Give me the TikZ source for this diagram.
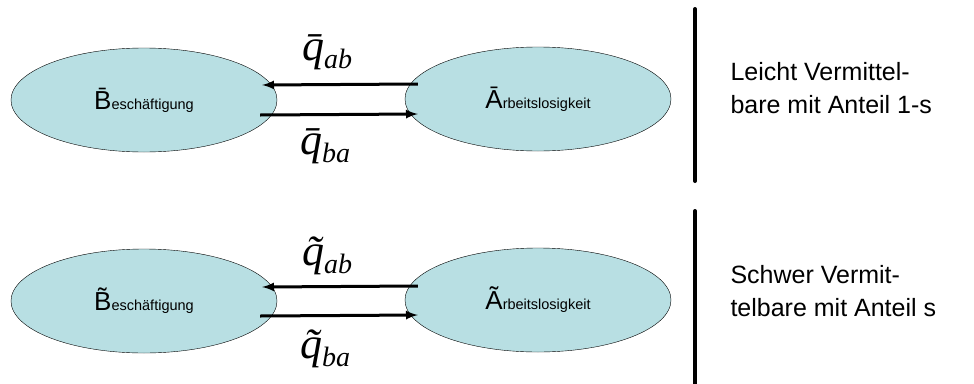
\documentclass[tikz,border=0pt]{standalone}
\usepackage{fontspec}
\setmainfont{Liberation Sans}
\newfontfamily\tnr{Liberation Serif}
\usetikzlibrary{shapes.geometric}
\definecolor{hellblau}{RGB}{184,223,227}
\newcommand{\gross}[1]{{\fontsize{26}{28}\selectfont #1}}
\newcommand{\qrate}[2]{#1q\raisebox{-8pt}{\fontsize{28}{28}\selectfont #2}}
\begin{document}
\begin{tikzpicture}[x=1pt, y=-1pt,
    every node/.style={font=\fontsize{14.5}{16}\selectfont},
    zustand/.style={ellipse, draw, fill=hellblau, minimum width=266pt,
        minimum height=104pt, inner sep=0pt},
    pfeil/.style={-latex, line width=3pt},
    rate/.style={font=\tnr\itshape\fontsize{44}{44}\selectfont},
    trenn/.style={line width=4pt, line cap=round},
    gruppe/.style={align=left, anchor=west, font=\fontsize{25}{33}\selectfont}]

    \useasboundingbox (0,0) rectangle (974,383);

    \node[zustand] (b1) at (144,100) {\gross{\=B}eschäftigung};
    \node[zustand] (a1) at (538,99) {\gross{\=A}rbeitslosigkeit};
    \node[zustand] (b2) at (144,301) {\gross{\~B}eschäftigung};
    \node[zustand] (a2) at (538,300) {\gross{\~A}rbeitslosigkeit};

    \draw[pfeil] ([shift={(13pt,15pt)}]a1.west) -- ([shift={(-15pt,15pt)}]b1.east);
    \draw[pfeil] ([shift={(-17pt,-15pt)}]b1.east) -- ([shift={(13pt,-15pt)}]a1.west);
    \draw[pfeil] ([shift={(13pt,14pt)}]a2.west) -- ([shift={(-15pt,14pt)}]b2.east);
    \draw[pfeil] ([shift={(-17pt,-15pt)}]b2.east) -- ([shift={(13pt,-15pt)}]a2.west);

    \node[rate] (q1) at (327,52) {\qrate{\=}{ab}};
    \node[rate] (q2) at (325,146) {\qrate{\=}{ba}};
    \node[rate] (q3) at (327,256) {\qrate{\~}{ab}};
    \node[rate] (q4) at (325,349) {\qrate{\~}{ba}};

    \draw[trenn] (695,9) -- (695,181);
    \draw[trenn] (695,211) -- (695,390);

    \node[gruppe] (t1) at (727,88) {Leicht Vermittel-\\bare mit Anteil 1-s};
    \node[gruppe] (t2) at (727,291) {Schwer Vermit-\\telbare mit Anteil s};
\end{tikzpicture}
\end{document}
